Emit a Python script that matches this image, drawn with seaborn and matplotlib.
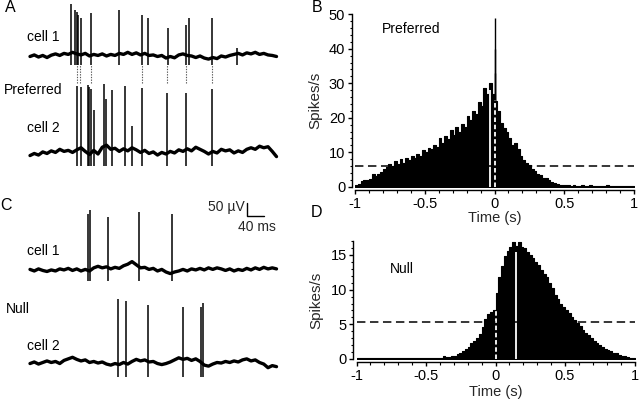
import numpy as np
import pandas as pd
import matplotlib
matplotlib.use('Agg')
import matplotlib.pyplot as plt
from matplotlib.ticker import MultipleLocator, FixedLocator
import seaborn as sns

# --- traces: samples every 10 ms, values in uV relative to each trace's baseline
t_ms = np.arange(0, 590, 10)

pref_cell1_noise = [2, 8, 0, 6, -2, 7, 12, 6, 14, 10, 18, 12, 8, 14, 4, 10, 6, 12, 4, 10,
                    6, 14, 10, 18, 10, 16, 8, 14, 6, 8, 2, 6, -4, 2, -3, 8, 12, 6, 4, -2,
                    4, -4, -8, -2, -6, 4, 0, 6, 10, 14, 8, 16, 12, 18, 10, 14, 8, 6, 2]
pref_cell2_noise = [-10, -2, -8, 4, -2, 8, 2, 14, 6, 10, 2, 12, 20, 6, -6, 10, -4, 22, 30, 14,
                    18, 6, 16, 8, 20, 12, 2, 10, -2, 4, -8, 2, -4, 6, 0, 12, 6, 16, 8, 22,
                    14, 6, -4, 6, 0, 14, 8, 12, 0, 8, 2, 14, 20, 14, 26, 20, 24, 6, -14]
null_cell1_noise = [2, -4, 4, -2, -6, 0, -4, 4, 0, 6, -2, 4, -4, 2, -4, 8, 14, 8, 12, 4,
                    10, 6, 16, 22, 32, 20, 8, 10, 2, 6, -4, 2, -8, -14, -8, -4, 2, -4, 4, 0,
                    6, 0, 8, 2, 8, 4, -2, 4, -4, 2, -2, 6, 0, 8, 2, 10, 4, 8, 4]
null_cell2_noise = [-2, 4, -4, 2, 8, 2, 6, -2, 10, 16, 22, 14, 8, 12, 2, 6, 0, 4, -4, -8,
                    -2, -6, 2, -4, 6, 14, 8, 12, 4, 6, -2, -6, -2, 4, 12, 20, 14, 18, 10, 16,
                    6, -8, -12, -4, 2, 0, 6, 2, 8, 4, 12, 16, 8, 12, 2, -4, -18, -10, -14]

# spike times (ms) and peak heights (uV above baseline)
pref_cell1_spk = [96, 106, 110, 113, 119, 143, 209, 263, 278, 324, 366, 374, 428, 488]
pref_cell1_amp = [204, 181, 173, 162, 150, 169, 181, 162, 150, 112, 123, 150, 150, 35]
pref_cell2_spk = [111, 119, 137, 139.5, 143, 150, 174, 179, 193, 223.5, 239, 263.5, 323, 366.4, 428]
pref_cell2_amp = [258, 255, 262, 253, 245, 165, 265, 207, 242, 258, 104, 249, 230, 230, 245]
sync_ms = [110, 117.6, 142.8, 263.5, 323, 366.4, 428.2]

null_cell1_spk = [137, 141, 183, 256.5, 335]
null_cell1_amp = [215, 231, 204, 223, 215]
null_cell2_spk = [207, 225, 277.6, 359, 403, 408]
null_cell2_amp = [245, 238, 223, 217, 217, 232]

# --- cross-correlograms (spikes/s), 20 ms bins from -1 to 1 s
pref_rate = [0.6, 0.8, 1.6, 1.9, 1.8, 2.2, 3.8, 3.0, 3.8, 4.4,
             5.2, 5.6, 6.6, 5.9, 7.4, 6.5, 8.0, 7.0, 8.4, 7.6,
             9.0, 8.2, 9.6, 9.0, 10.6, 10.0, 11.2, 10.8, 12.0, 11.6,
             14.2, 12.6, 14.8, 13.8, 16.4, 15.0, 17.2, 16.0, 18.2, 17.4,
             20.6, 19.2, 22.0, 21.0, 24.5, 23.5, 28.5, 27.0, 30.0, 27.0,
             25.0, 22.0, 18.5, 17.0, 15.8, 14.2, 12.0, 12.6, 11.0, 9.0,
             7.6, 7.0, 6.4, 5.0, 4.6, 3.8, 3.4, 2.6, 2.4, 1.8,
             1.4, 1.0, 0.8, 0.6, 0.5, 0.4, 0.5, 0.3, 0.4, 0.3,
             0.3, 0.4, 0.3, 0.3, 0.4, 0.3, 0.3, 0.2, 0.3, 0.3,
             0.4, 0.3, 0.2, 0.3, 0.3, 0.2, 0.3, 0.3, 0.2, 0.2]
null_rate = [0.15] * 30 + [
             0.2, 0.4, 0.3, 0.3, 0.4, 0.5, 0.7, 0.9, 1.2, 1.5,
             1.8, 2.3, 2.6, 3.0, 3.6, 4.6, 5.8, 6.5, 6.8, 7.0,
             9.5, 11.8, 13.4, 14.8, 15.6, 16.2, 16.8, 16.3, 16.8, 16.2,
             16.0, 15.4, 15.0, 14.6, 14.0, 13.6, 12.8, 12.2, 11.8, 11.0,
             10.2, 9.2, 8.6, 8.0, 7.5, 7.1, 6.6, 6.0, 5.6, 5.2,
             4.7, 4.2, 3.8, 3.4, 3.0, 2.6, 2.3, 2.0, 1.7, 1.4,
             1.3, 1.1, 0.9, 0.8, 0.6, 0.5, 0.4, 0.3, 0.2, 0.15]
bin_width = 0.02
bin_centers = np.linspace(-1, 1, 101)[:-1] + bin_width / 2

# narrow peak at zero lag in the preferred correlogram
pref_peak_t = [0.0, 0.003, 0.006]
pref_peak_rate = [49, 40, 33]

pref_level, null_level = 6.1, 5.3          # dashed significance lines
pref_mean = (-0.035, 28)                   # white solid line (time, height)
pref_zero = 25                             # white dashed line height at 0
null_mean = (0.15, 15.5)
null_zero = 7

sns.set_theme(style='ticks')
plt.rcParams['font.family'] = ['Liberation Sans', 'DejaVu Sans']
plt.rcParams['font.size'] = 10

fig = plt.figure(figsize=(6.4, 4), dpi=100)


def fx(px):
    return px / 640


def fy(py):
    return 1 - py / 400


def trace(ax, offset, noise, spk, amp, dip):
    sns.lineplot(x=t_ms, y=offset + np.array(noise), color='black', lw=2.4, ax=ax)
    ax.vlines(spk, offset - dip, offset + np.array(amp), color='black', lw=1.1)


# ---- A: preferred traces
ax_a = fig.add_axes([0, 220 / 400, 280 / 640, 180 / 400])
ax_a.set_xlim(-70.6, 588.2)
ax_a.set_ylim(0, 692.3)
trace(ax_a, 473, pref_cell1_noise, pref_cell1_spk, pref_cell1_amp, 30)
trace(ax_a, 104, pref_cell2_noise, pref_cell2_spk, pref_cell2_amp, 52)
ax_a.vlines(sync_ms, 373, 442, color='0.35', lw=0.8, linestyles=(0, (1.2, 1.2)))
ax_a.axis('off')

# ---- C: null traces
ax_c = fig.add_axes([0, 5 / 400, 280 / 640, 200 / 400])
ax_c.set_xlim(-70.6, 588.2)
ax_c.set_ylim(0, 769.2)
trace(ax_c, 481, null_cell1_noise, null_cell1_spk, null_cell1_amp, 44)
trace(ax_c, 123, null_cell2_noise, null_cell2_spk, null_cell2_amp, 52)
ax_c.plot([510.6, 510.6, 550.6], [738, 688, 688], color='black', lw=1.0)
ax_c.axis('off')


def ccg(ax, rate, top, major, minor):
    df = pd.DataFrame({'t': bin_centers, 'rate': rate})
    sns.histplot(data=df, x='t', weights='rate', binwidth=bin_width, binrange=(-1, 1),
                 element='step', fill=True, color='black', alpha=1, linewidth=0.8,
                 ax=ax, legend=False)
    ax.set_xlim(-1, 1)
    ax.set_ylim(0, top)
    sns.despine(ax=ax)
    ax.spines['left'].set_position(('outward', 2.3))
    ax.spines['bottom'].set_position(('outward', 2.5))
    for s in ('left', 'bottom'):
        ax.spines[s].set_linewidth(1.0)
        ax.spines[s].set_color('black')
    ax.xaxis.set_major_locator(FixedLocator([-1, -0.5, 0, 0.5, 1]))
    ax.set_xticklabels(['-1', '-0.5', '0', '0.5', '1'])
    ax.xaxis.set_minor_locator(MultipleLocator(0.1))
    ax.yaxis.set_major_locator(MultipleLocator(major))
    ax.yaxis.set_minor_locator(MultipleLocator(minor))
    ax.tick_params(which='major', direction='out', length=3.2, width=1.0, labelsize=10.5,
                   pad=1.5, color='black', labelcolor='black')
    ax.tick_params(which='minor', direction='out', length=1.8, width=0.8, color='black')
    ax.set_xlabel('Time (s)', fontsize=10.5)
    ax.set_ylabel('Spikes/s', fontsize=11)
    ax.yaxis.set_label_coords(-0.118, 0.5)
    ax.xaxis.label.set_va('center')
    ax.set_facecolor('white')


# ---- B: preferred correlogram
ax_b = fig.add_axes([fx(355), fy(186.7), 279 / 640, 172.4 / 400])
ccg(ax_b, pref_rate, 50, 10, 2)
ax_b.vlines(pref_peak_t, 0, pref_peak_rate, color='black', lw=1.0)
ax_b.vlines(pref_mean[0], 0, pref_mean[1], color='white', lw=1.3)
ax_b.vlines(0, 0, pref_zero, color='white', lw=1.3, linestyles=(0, (2.5, 1.5)))
ax_b.axhline(pref_level, color='black', lw=1.1, ls=(0, (5.5, 3)))
ax_b.xaxis.set_label_coords(0.5, (186.7 - 218) / 172.4)

# ---- D: null correlogram
ax_d = fig.add_axes([fx(356.5), fy(359), 278 / 640, 117.9 / 400])
ccg(ax_d, null_rate, 17, 5, 1)
ax_d.vlines(null_mean[0], 0, null_mean[1], color='white', lw=1.3)
ax_d.vlines(0, 0, null_zero, color='white', lw=1.3, linestyles=(0, (2.5, 1.5)))
ax_d.axhline(null_level, color='black', lw=1.1, ls=(0, (5.5, 3)))
ax_d.xaxis.set_label_coords(0.5, (359 - 392) / 117.9)

# ---- text
lab = dict(fontsize=10, va='center', ha='left', color='black')
fig.text(fx(27), fy(37), 'cell 1', **lab)
fig.text(fx(4), fy(90), 'Preferred', **lab)
fig.text(fx(27), fy(128), 'cell 2', **lab)
fig.text(fx(27), fy(251), 'cell 1', **lab)
fig.text(fx(6), fy(309), 'Null', **lab)
fig.text(fx(27), fy(346), 'cell 2', **lab)
fig.text(fx(381.7), fy(29.3), 'Preferred', **lab)
fig.text(fx(390), fy(269), 'Null', **lab)
fig.text(fx(245), fy(207), '50 µV', fontsize=10, va='center', ha='right')
fig.text(fx(276), fy(227), '40 ms', fontsize=10, va='center', ha='right')

let = dict(fontsize=11.5, va='center', ha='center', color='black')
fig.text(fx(10.5), fy(8), 'A', **let)
fig.text(fx(317), fy(7), 'B', **let)
fig.text(fx(6), fy(206), 'C', **let)
fig.text(fx(317), fy(212.5), 'D', **let)

fig.savefig('out.png', dpi=100, facecolor='white')
